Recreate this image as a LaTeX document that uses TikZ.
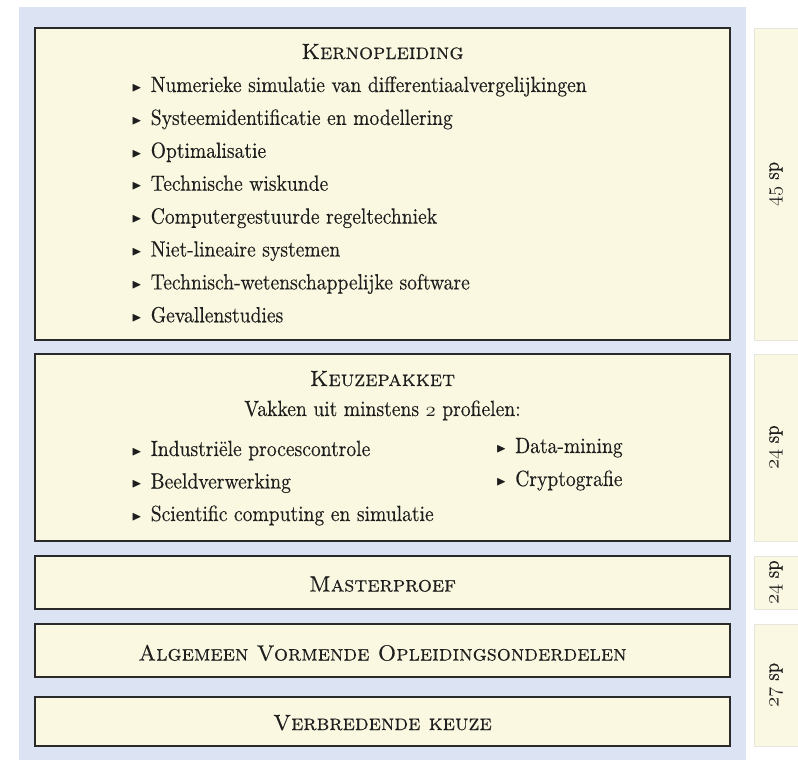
\documentclass[tikz,border=0pt]{standalone}
\usepackage{amssymb}
\usepackage{graphicx}
\usepackage{fontspec}
\setmainfont{lmroman10-regular.otf}[FakeStretch=0.89, FakeBold=0.3]
\newfontfamily\scfont{lmromancaps10-regular.otf}[FakeBold=0.3]
\newcommand{\osn}[1]{{\usefont{OML}{cmm}{m}{it}#1}}
\definecolor{bgblue}{HTML}{DCE3F2}
\definecolor{cream}{HTML}{FAF8E0}
\definecolor{sidecream}{HTML}{FAF8E3}
\definecolor{sideline}{HTML}{E6E6DC}
\definecolor{boxline}{HTML}{2A2A2A}
\definecolor{txt}{HTML}{1E1E1E}
\newcommand{\bul}{\raisebox{0.08ex}{\scalebox{0.6}{$\blacktriangleright$}}\hspace{0.4em}}
\tikzset{
  mainbox/.style={draw=boxline, line width=1.5pt, fill=cream, inner sep=0pt},
  sidebox/.style={draw=sideline, line width=0.6pt, fill=sidecream, inner sep=0pt},
  ttl/.style={font=\fontsize{22}{26}\selectfont, text=txt, anchor=base, inner sep=0pt},
  item/.style={font=\fontsize{22}{26}\selectfont, text=txt, anchor=base west, inner sep=0pt},
  side/.style={font=\fontsize{21}{25}\selectfont, text=txt, rotate=90}
}
\begin{document}
\begin{tikzpicture}[x=1pt,y=-1pt]
\useasboundingbox (0,0) rectangle (798,761);
\fill[bgblue] (19,7) rectangle (746,760);
% main boxes
\node[mainbox, minimum width=695pt, minimum height=312pt] (k) at (382.5,184) {};
\node[mainbox, minimum width=695pt, minimum height=187pt] (p) at (382.5,447.5) {};
\node[mainbox, minimum width=695pt, minimum height=53pt] (m) at (382.5,582.5) {};
\node[mainbox, minimum width=695pt, minimum height=53pt] (a) at (382.5,650.5) {};
\node[mainbox, minimum width=695pt, minimum height=49pt] (v) at (382.5,721.5) {};
% side boxes
\node[sidebox, minimum width=44pt, minimum height=312pt] (s1) at (776,184) {};
\node[sidebox, minimum width=44pt, minimum height=187pt] (s2) at (776,447.5) {};
\node[sidebox, minimum width=44pt, minimum height=53pt] (s3) at (776,582.5) {};
\node[sidebox, minimum width=44pt, minimum height=122pt] (s4) at (776,685) {};
\node[side] (l1) at (s1) {\osn{45} sp};
\node[side] (l2) at (s2) {\osn{24} sp};
\node[side] (l3) at (s3) {\osn{24} sp};
\node[side] (l4) at (s4) {\osn{27} sp};
% Kernopleiding
\node[ttl] (kt) at (382.5,59) {\scfont Kernopleiding};
\node[item] (k1) at (131.5,92) {\bul Numerieke simulatie van differentiaalvergelijkingen};
\node[item] (k2) at (131.5,124.9) {\bul Systeemidentificatie en modellering};
\node[item] (k3) at (131.5,157.8) {\bul Optimalisatie};
\node[item] (k4) at (131.5,190.7) {\bul Technische wiskunde};
\node[item] (k5) at (131.5,223.6) {\bul Computergestuurde regeltechniek};
\node[item] (k6) at (131.5,256.5) {\bul Niet-lineaire systemen};
\node[item] (k7) at (131.5,289.4) {\bul Technisch-wetenschappelijke software};
\node[item] (k8) at (131.5,322.3) {\bul Gevallenstudies};
% Keuzepakket
\node[ttl] (pt) at (382.5,386) {\scfont Keuzepakket};
\node[ttl] (pv) at (382.5,416) {Vakken uit minstens \osn{2} profielen:};
\node[item] (p1) at (131.5,456) {\bul Industriële procescontrole};
\node[item] (p2) at (131.5,488.5) {\bul Beeldverwerking};
\node[item] (p3) at (131.5,521) {\bul Scientific computing en simulatie};
\node[item] (p4) at (496,453) {\bul Data-mining};
\node[item] (p5) at (496,486) {\bul Cryptografie};
% others
\node[ttl] (mt) at (382.5,591.5) {\scfont Masterproef};
\node[ttl] (at) at (382.5,660.5) {\scfont Algemeen Vormende Opleidingsonderdelen};
\node[ttl] (vt) at (382.5,730) {\scfont Verbredende keuze};
\end{tikzpicture}
\end{document}
